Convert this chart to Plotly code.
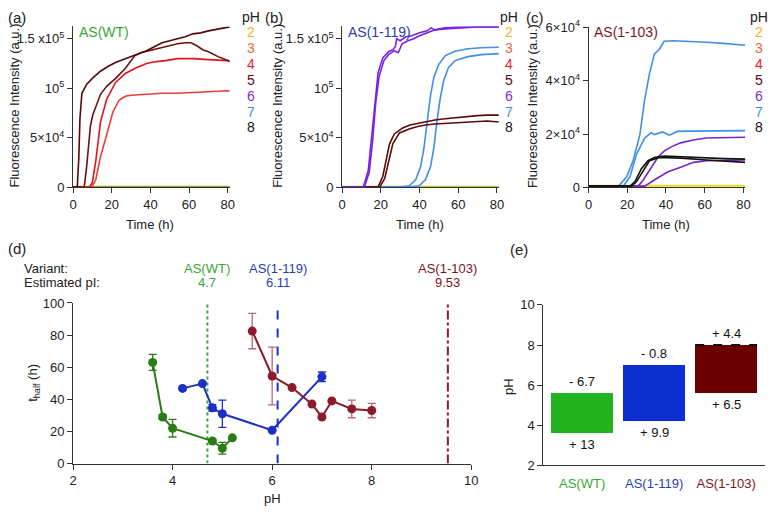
import plotly.graph_objects as go

W, H = 774, 516
FONT = "Liberation Sans, Arial, sans-serif"

# ---------------- legend (pH colours) ----------------
ph_labels = ["2", "3", "4", "5", "6", "7", "8"]
ph_colors = ["#f2b21f", "#f0683f", "#e8232b", "#5c0b10", "#7a2fd2", "#3b8de3", "#111111"]

# ---------------- panel (a) AS(WT) ----------------
a1_t = [0, 2.2, 3.0, 3.6, 4.6, 7, 10, 14, 18, 22, 26, 30, 34, 38, 42, 46, 50, 54, 58, 62, 66, 70, 75, 80, 81]
a1_y = [500, 500, 30000, 70000, 95000, 104000, 110000, 117000, 122000, 126000, 129000, 132000, 135000, 138000,
        142000, 146000, 148000, 150000, 152000, 155000, 156000, 158000, 160000, 162000, 162000]
a2_t = [0, 5.8, 7, 8, 9, 10.2, 12.6, 14.2, 17.4, 22, 27, 30, 32, 35, 41, 46, 50, 54, 58, 61, 64, 67, 70, 75, 80, 81]
a2_y = [500, 500, 20000, 45000, 62000, 73000, 86000, 94000, 102000, 110000, 120000, 128000, 133000, 136000,
        139000, 141000, 143000, 145000, 146000, 146000, 143000, 139000, 137000, 132000, 128000, 127000]
a3_t = [0, 8.6, 10, 11.8, 14.2, 17.4, 22, 27, 33, 38, 43, 48, 54, 62, 70, 80, 81]
a3_y = [500, 500, 5000, 27000, 66000, 89000, 106000, 115000, 121000, 125000, 127000, 128000, 130000, 130000,
        129000, 128000, 127000]
a4_t = [0, 9.8, 11.8, 14.2, 17.4, 20.6, 23.8, 27, 30, 38, 46, 54, 62, 70, 80, 81]
a4_y = [500, 500, 8000, 31000, 53000, 76000, 88000, 92000, 93000, 94000, 95000, 95000, 96000, 96500, 97500, 97000]
flat_t = [0, 81]
flat_y = [600, 600]
flat2_y = [800, 800]

# ---------------- panel (b) AS(1-119) ----------------
bp1_t = [0, 11, 13.5, 15.2, 16.9, 18.6, 21.1, 24, 26.2, 27.5, 28.2, 30, 33, 36, 40, 44, 46, 48, 53, 60, 70, 81]
bp1_y = [500, 500, 17000, 50000, 90000, 116000, 131000, 137000, 139000, 142000, 150000, 148000, 152000, 153000,
         156000, 158000, 161000, 159000, 161000, 162000, 162000, 162000]
bp2_t = [0, 11.5, 14, 15.7, 17.4, 19.1, 21.6, 24, 27, 29, 31, 34, 37, 40, 44, 48, 53, 60, 70, 81]
bp2_y = [500, 500, 15000, 46000, 86000, 112000, 128000, 134000, 138000, 136000, 145000, 148000, 150000, 153000,
         156000, 159000, 160000, 161000, 162000, 162000]
br1_t = [0, 18.6, 21, 22.8, 24.5, 27, 31.3, 35, 39.8, 44, 48, 52, 56.7, 61, 65, 70, 75, 81]
br1_y = [500, 500, 11000, 27000, 44000, 54000, 60000, 63000, 65000, 66500, 68000, 69000, 70000, 71000, 72000,
         72500, 73000, 73000]
br2_t = [0, 19.5, 22, 23.7, 26.2, 29.6, 34.7, 39, 43, 48, 52, 56.7, 61, 65, 70, 75, 81]
br2_y = [500, 500, 9000, 24000, 44000, 55000, 59000, 61500, 63000, 64000, 64500, 65000, 65500, 66000, 66500,
         67000, 66000]
bb1_t = [0, 29.6, 34.7, 38, 40.6, 42.3, 44, 45.7, 47.4, 49.9, 53.3, 58.4, 65, 72, 81]
bb1_y = [500, 500, 1600, 7600, 21000, 40000, 67000, 93000, 111000, 124000, 133000, 137500, 140000, 141000, 141500]
bb2_t = [0, 34.7, 39.8, 43, 45.7, 47.4, 49, 50.7, 52.5, 55, 58.4, 65, 72, 81]
bb2_y = [500, 500, 1600, 7600, 21000, 40000, 67000, 90000, 108000, 121000, 128000, 132000, 134000, 135000]

# ---------------- panel (c) AS(1-103) ----------------
cb1_t = [0, 15.5, 19.7, 23, 26.5, 29, 31.5, 34, 36.6, 39, 44, 52.6, 61, 69.5, 81]
cb1_y = [500, 500, 4000, 10000, 19700, 33000, 42700, 50000, 51800, 54800, 55000, 54800, 54400, 54000, 53300]
cb2_t = [0, 18, 21.4, 24.8, 29, 32.4, 34, 38.3, 41.7, 45.9, 52, 61, 70, 81]
cb2_y = [500, 500, 4000, 12500, 18500, 20500, 19800, 20800, 19600, 21000, 21100, 21200, 21300, 21300]
cp1_t = [0, 25.6, 28, 32.4, 36, 39.2, 43, 47.6, 54, 61, 70, 81]
cp1_y = [500, 500, 2500, 7600, 11500, 13700, 15300, 16700, 17800, 18500, 18700, 18800]
cp2_t = [0, 29, 34, 40.8, 47.6, 54.3, 61, 70, 81]
cp2_y = [500, 500, 2800, 5800, 7600, 9400, 10000, 10200, 10300]
ck1_t = [0, 21.4, 24, 27.3, 30.7, 34, 39, 47.6, 61, 70, 81]
ck1_y = [500, 500, 2200, 7000, 10000, 11200, 11800, 11500, 11000, 10800, 10600]
ck2_t = [0, 22.3, 24.8, 28.2, 31.5, 36.6, 47.6, 61, 70, 81]
ck2_y = [500, 500, 2200, 6400, 10000, 11200, 11000, 10300, 9900, 9400]

# ---------------- panel (d) t_half vs pH ----------------
wt_ph = [3.6, 3.8, 4.0, 4.8, 5.0, 5.2]
wt_th = [63, 29, 22, 14, 9.5, 16]
wt_err = [5, 1.5, 5.5, 1, 3.7, 0]
v119_ph = [4.2, 4.6, 4.8, 5.0, 6.0, 7.0]
v119_th = [46.8, 49.8, 34.7, 31, 20.7, 54]
v119_err = [0, 0, 2, 8.5, 0, 3]
v103_ph = [5.6, 6.0, 6.4, 6.8, 7.0, 7.2, 7.6, 8.0]
v103_th = [82.5, 54.5, 47.3, 37, 29, 39, 34, 33]
v103_err = [11, 18, 0, 0, 0, 0, 5.5, 4.5]
variants = ["AS(WT)", "AS(1-119)", "AS(1-103)"]
pI_values = [4.7, 6.11, 9.53]
pI_labels = ["4.7", "6.11", "9.53"]

# ---------------- panel (e) pH windows ----------------
win_low = [3.6, 4.2, 5.6]
win_high = [5.6, 7.0, 8.0]
top_labels = ["- 6.7", "- 0.8", "+ 4.4"]
bottom_labels = ["+ 13", "+ 9.9", "+ 6.5"]

# axis tick labels
ab_tickvals = [0, 50000, 100000, 150000]
ab_ticktext = ["0", "5×10<sup>4</sup>", "10<sup>5</sup>", "1.5 x10<sup>5</sup>"]
c_tickvals = [0, 20000, 40000, 60000]
c_ticktext = ["0", "2×10<sup>4</sup>", "4×10<sup>4</sup>", "6×10<sup>4</sup>"]
time_ticks = [0, 20, 40, 60, 80]

# colours
WT_LINE = "#2a7d14"
V119_LINE = "#1c30c4"
V103_LINE = "#8c1a2c"
WT_TXT = "#35a835"
V119_TXT = "#2a3db5"
V103_TXT = "#7d1625"
bar_colors = ["#22b31e", "#0b2fd0", "#6a0000"]
var_txt_colors = [WT_TXT, V119_TXT, V103_TXT]


def X(p):
    return p / W


def Y(p):
    return 1 - p / H


fig = go.Figure()


def line(t, y, color, ax="", width=1.6):
    fig.add_trace(go.Scatter(x=t, y=y, mode="lines", line=dict(color=color, width=width),
                             xaxis="x" + ax, yaxis="y" + ax, showlegend=False, hoverinfo="skip"))


# panel a
line(flat_t, flat_y, "#c8c820", "", 2)
line(flat_t, flat2_y, "#8a9a3a", "", 1.2)
line(a4_t, a4_y, "#f03a3a")
line(a3_t, a3_y, "#e0141c")
line(a2_t, a2_y, "#6e1010")
line(a1_t, a1_y, "#560707")
# panel b
line(flat_t, flat_y, "#c8c820", "2", 2)
line(bb1_t, bb1_y, "#3f8fe6", "2")
line(bb2_t, bb2_y, "#3f8fe6", "2")
line(br1_t, br1_y, "#5c0b0b", "2")
line(br2_t, br2_y, "#5c0b0b", "2")
line(bp1_t, bp1_y, "#7a22e0", "2")
line(bp2_t, bp2_y, "#7a22e0", "2")
# panel c
line(flat_t, flat_y, "#e6e020", "3", 2)
line(cb1_t, cb1_y, "#3f8fe6", "3")
line(cb2_t, cb2_y, "#3f8fe6", "3")
line(cp1_t, cp1_y, "#7a22d0", "3")
line(cp2_t, cp2_y, "#7a22d0", "3")
line(ck1_t, ck1_y, "#111111", "3")
line(ck2_t, ck2_y, "#111111", "3")

# panel d vertical pI lines
for pv, col, dash in zip(pI_values, [WT_TXT, V119_LINE, V103_LINE], ["dot", "dash", "dashdot"]):
    fig.add_trace(go.Scatter(x=[pv, pv], y=[0, 100], mode="lines", line=dict(color=col, width=2, dash=dash),
                             xaxis="x4", yaxis="y4", showlegend=False, hoverinfo="skip"))

for xs, ys, es, col, ecol in [(wt_ph, wt_th, wt_err, WT_LINE, WT_LINE),
                              (v119_ph, v119_th, v119_err, V119_LINE, V119_LINE),
                              (v103_ph, v103_th, v103_err, V103_LINE, "rgba(140,26,44,0.65)")]:
    fig.add_trace(go.Scatter(x=xs, y=ys, mode="lines+markers",
                             line=dict(color=col, width=2), marker=dict(color=col, size=9),
                             error_y=dict(type="data", array=es, visible=True, color=ecol, thickness=1.3, width=4),
                             xaxis="x4", yaxis="y4", showlegend=False, hoverinfo="skip"))

# panel e bars
cat_pos = list(range(len(variants)))
fig.add_trace(go.Bar(x=cat_pos, base=win_low, y=[h - l for h, l in zip(win_high, win_low)],
                     marker=dict(color=bar_colors, line=dict(width=0)), width=0.86,
                     xaxis="x5", yaxis="y5", showlegend=False, hoverinfo="skip"))
fig.add_trace(go.Scatter(x=[cat_pos[2] - 0.43, cat_pos[2] + 0.43], y=[win_high[2], win_high[2]], mode="lines",
                         line=dict(color="#111111", width=2, dash="dash"),
                         xaxis="x5", yaxis="y5", showlegend=False, hoverinfo="skip"))

axcommon = dict(showline=True, linecolor="#333333", linewidth=1, ticks="outside", ticklen=5,
                tickcolor="#333333", showgrid=False, zeroline=False, tickfont=dict(size=13, color="#222222"),
                fixedrange=True)

lay = dict(width=W, height=H, margin=dict(l=0, r=0, t=0, b=0), paper_bgcolor="white", plot_bgcolor="white",
           font=dict(family=FONT, color="#222222"), showlegend=False, bargap=0)

# a, b, c axes
panels = [("", 70, 229, 18, [0, 162500], ab_tickvals, ab_ticktext),
          ("2", 343, 502, 18, [0, 162500], ab_tickvals, ab_ticktext),
          ("3", 593, 752, 19, [0, 60000], c_tickvals, c_ticktext)]
for ax, x0, x1, ytop, yr, tv, tt in panels:
    lay["xaxis" + ax] = dict(axcommon, domain=[X(x0), X(x1)], range=[0, 81], tickvals=time_ticks,
                             anchor="y" + ax)
    lay["yaxis" + ax] = dict(axcommon, domain=[Y(184.5), Y(ytop)], range=yr, tickvals=tv, ticktext=tt,
                             anchor="x" + ax)

lay["xaxis4"] = dict(axcommon, domain=[X(70), X(474)], range=[2, 10], tickvals=[2, 4, 6, 8, 10], anchor="y4")
lay["yaxis4"] = dict(axcommon, domain=[Y(470), Y(304)], range=[0, 100], tickvals=[0, 20, 40, 60, 80, 100],
                     anchor="x4")
lay["xaxis5"] = dict(axcommon, domain=[X(547), X(772)], range=[-0.54, 2.54], tickvals=cat_pos,
                     ticktext=[f"<span style='color:{c}'>{v}</span>" for c, v in zip(var_txt_colors, variants)],
                     ticks="", ticklabelstandoff=6, anchor="y5")
lay["yaxis5"] = dict(axcommon, domain=[Y(472), Y(306)], range=[2, 10], tickvals=[2, 4, 6, 8, 10], anchor="x5")

fig.update_layout(**lay)

ann = []


def text(x, y, s, size=13, color="#222222", xanchor="center", yanchor="middle", angle=0):
    ann.append(dict(x=X(x), y=Y(y), xref="paper", yref="paper", text=s, showarrow=False,
                    font=dict(size=size, color=color, family=FONT), xanchor=xanchor, yanchor=yanchor,
                    textangle=angle))


# panel letters
text(2, 9, "(a)", 15, xanchor="left")
text(263, 9, "(b)", 15, xanchor="left")
text(528, 9, "(c)", 15, xanchor="left")
text(2, 248, "(d)", 15, xanchor="left")
text(511, 249, "(e)", 15, xanchor="left")

# variant labels in a, b, c
text(74, 24, "AS(WT)", 14, WT_TXT, xanchor="left")
text(347, 24, "AS(1-119)", 14, V119_TXT, xanchor="left")
text(596, 24, "AS(1-103)", 14, V103_TXT, xanchor="left")

# axis titles a, b, c
for xl, xc in [(11, 148), (278, 422), (536, 672)]:
    text(xl, 100, "Fluorescence Intensity (a.u.)", 13, angle=-90)
    text(xc, 223, "Time (h)", 13)

# pH legends
for lx in [251, 512, 766]:
    text(lx, 8, "pH", 14)
    for i, (lab, col) in enumerate(zip(ph_labels, ph_colors)):
        text(lx, 23.5 + i * 16.5, lab, 14, col)

# panel d texts
text(18, 268, "Variant:", 13, xanchor="left")
text(18, 283, "Estimated pI:", 13, xanchor="left")
for pv, name, lab, col in zip(pI_values, variants, pI_labels, var_txt_colors):
    ann.append(dict(x=pv, y=Y(268), xref="x4", yref="paper", text=name, showarrow=False,
                    font=dict(size=13, color=col, family=FONT), xanchor="center", yanchor="middle"))
    ann.append(dict(x=pv, y=Y(283), xref="x4", yref="paper", text=lab, showarrow=False,
                    font=dict(size=13, color=col, family=FONT), xanchor="center", yanchor="middle"))
text(272, 506, "pH", 13)
text(30, 387, "t<sub>half</sub> (h)", 13, angle=-90)

# panel e texts
text(511, 390, "pH", 13, angle=-90)
for i in cat_pos:
    ann.append(dict(x=i, y=win_high[i], xref="x5", yref="y5", text=top_labels[i], showarrow=False,
                    font=dict(size=13, color="#111111", family=FONT), yanchor="bottom", yshift=2))
    ann.append(dict(x=i, y=win_low[i], xref="x5", yref="y5", text=bottom_labels[i], showarrow=False,
                    font=dict(size=13, color="#111111", family=FONT), yanchor="top", yshift=-2))

fig.update_layout(annotations=ann)
fig.write_html("out.html", config={"displayModeBar": False, "staticPlot": True},
               post_script="document.body.style.margin='0px';document.body.style.overflow='hidden';")
